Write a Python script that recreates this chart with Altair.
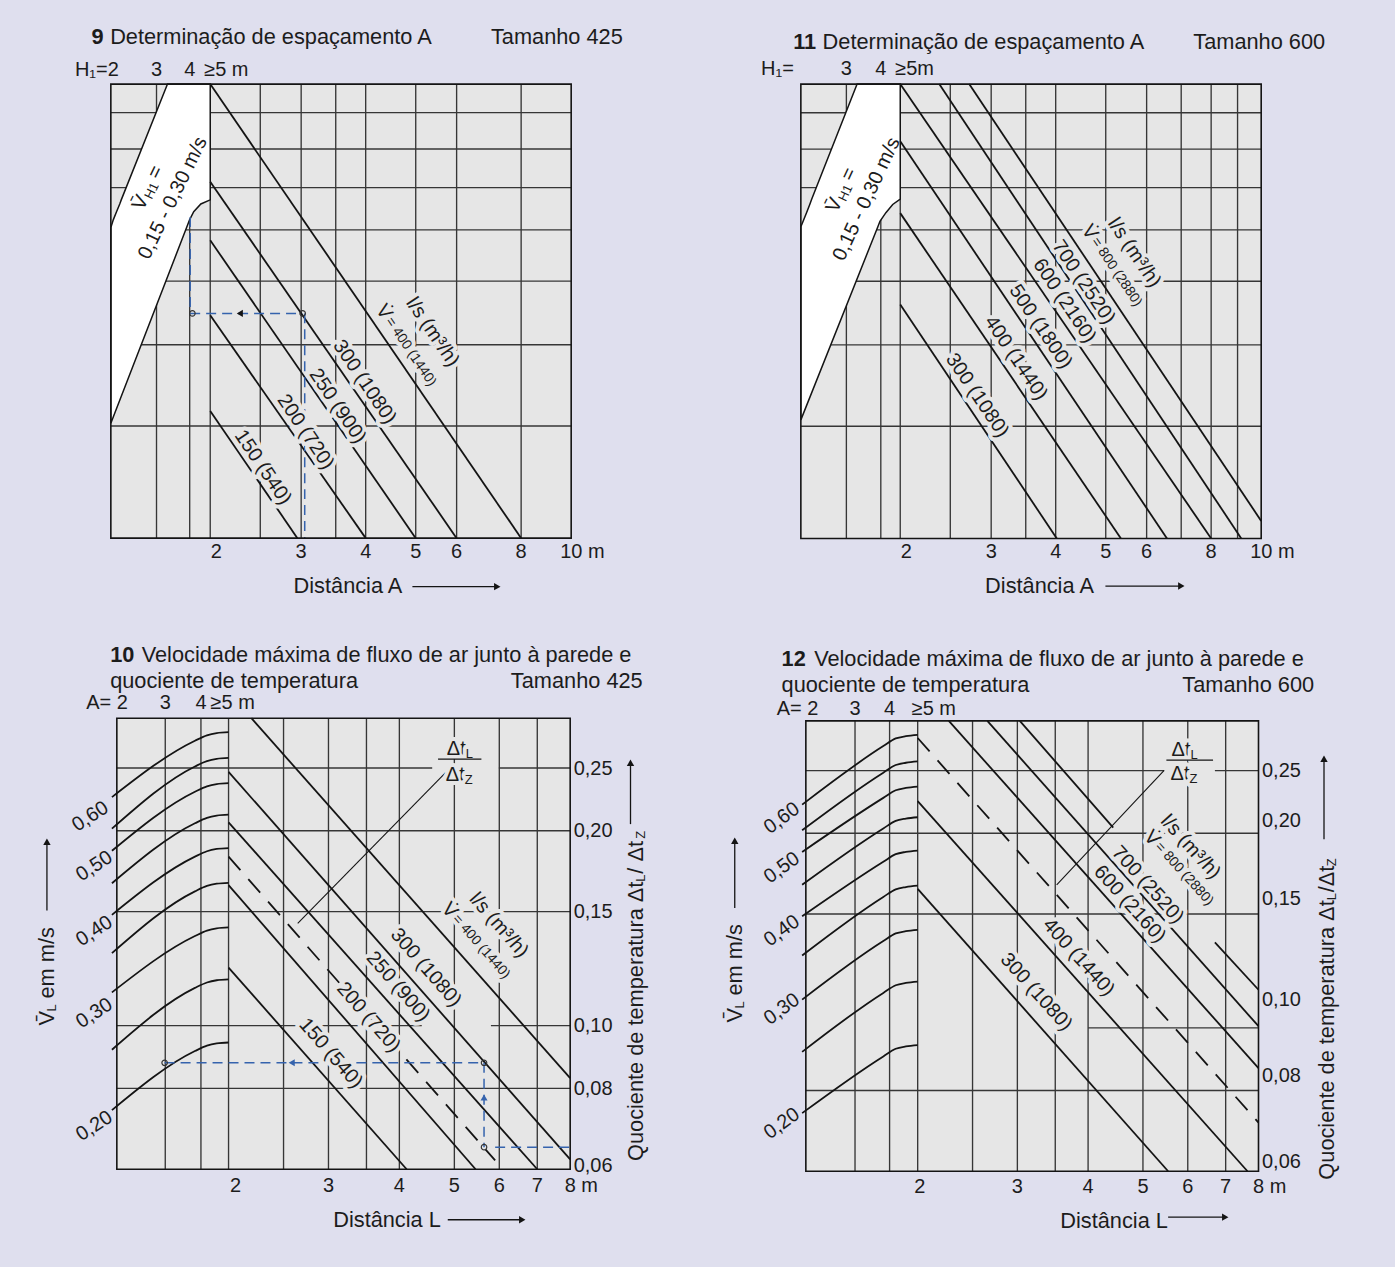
import math
import altair as alt
import pandas as pd

FONT = "Liberation Sans"
BG = "#dfdfee"
PLOT = "#e6e6e6"
TXT = "#1c1c1c"
INK = "#141414"
GRID = "#363636"
BLUE = "#3563ad"
FS = 20
FT = 21.8
FSM = 14
FSUB = 13
NB = "\u00a0"

# ======================= DATA =======================
# ---- Fig. 9  (Tamanho 425) distance A ----
f9_ticks = [2, 3, 4, 5, 6, 8, 10]
f9_grid_x = [1.574, 1.825, 2.0, 2.5, 3.0, 3.5, 4.0, 5.0, 6.0, 8.0]
f9_grid_y = [24.7, 42.6, 56.6, 67.9, 77.2, 85.7, 93.7]
f9_h1_pos = [1.284, 1.574, 1.825, 2.0]
f9_h1_txt = ["H₁=2", "3", "4", "≥5 m"]
f9_flow = ["400", "300", "250", "200", "150"]
f9_x_start = [2.0, 2.0, 2.0, 2.0, 2.0]
f9_y_start = [100.0, 78.5, 65.6, 49.1, 28.0]
f9_x_end = [8.0, 6.0, 5.0, 4.0, 2.95]
f9_y_end = [0.0, 0.0, 0.0, 0.0, 0.0]
f9_lab_txt = ["300 (1080)", "250 (900)", "200 (720)", "150 (540)"]
f9_lab_x = [3.98, 3.53, 3.06, 2.53]
f9_lab_y = [34.4, 29.1, 23.4, 15.6]
f9_top_txt = "= 400 (1440)"
f9_top_xy = [4.82, 42.1]
f9_unit_xy = [5.39, 45.4]
f9_band_y = [25.3, 68.4, 70.1, 71.9, 73.6, 74.5, 100.0]
f9_band_xl = [1.284, 1.284, 1.298, 1.317, 1.336, 1.345, 1.653]
f9_band_xr = [1.284, 1.800, 1.824, 1.858, 1.918, 2.0, 2.0]
f9_vh1_xy = [1.516, 77.3]
f9_range_xy = [1.692, 74.9]
f9_ex_hx0, f9_ex_hx1, f9_ex_hy = [1.829], [3.014], [49.5]
f9_ex_vx, f9_ex_vy0, f9_ex_vy1 = [1.829, 3.048], [70.7, 49.5], [49.5, 0.0]
f9_ex_cx, f9_ex_cy = [1.847, 3.02], [49.5, 49.5]
f9_ex_ax, f9_ex_ay = [2.282], [49.5]

# ---- Fig. 11 (Tamanho 600) distance A ----
f11_ticks = [2, 3, 4, 5, 6, 8, 10]
f11_grid_x = [1.573, 1.834, 2.0, 2.5, 3.0, 3.5, 4.0, 5.0, 6.0, 7.0, 8.0, 9.0]
f11_grid_y = [24.7, 42.6, 56.6, 67.9, 77.2, 85.7, 93.7]
f11_h1_pos = [1.284, 1.573, 1.834, 2.0]
f11_h1_txt = ["H₁=", "3", "4", "≥5m"]
f11_flow = ["800", "700", "600", "500", "400", "300"]
f11_x_start = [2.72, 2.38, 2.0, 2.0, 2.0, 2.0]
f11_y_start = [100.0, 100.0, 100.0, 87.4, 71.6, 51.5]
f11_x_end = [10.0, 9.15, 8.0, 6.57, 5.35, 4.02]
f11_y_end = [3.85, 0.0, 0.0, 0.0, 0.0, 0.0]
f11_lab_txt = ["300 (1080)", "400 (1440)", "500 (1800)", "600 (2160)", "700 (2520)"]
f11_lab_x = [2.82, 3.35, 3.74, 4.16, 4.53]
f11_lab_y = [31.5, 39.7, 46.6, 52.3, 56.4]
f11_top_txt = "= 800 (2880)"
f11_top_xy = [5.17, 59.7]
f11_unit_xy = [5.68, 62.9]
f11_band_y = [26.1, 68.6, 69.8, 71.7, 73.5, 74.7, 100.0]
f11_band_xl = [1.284, 1.284, 1.297, 1.317, 1.336, 1.348, 1.650]
f11_band_xr = [1.284, 1.810, 1.827, 1.876, 1.934, 2.0, 2.0]
f11_vh1_xy = [1.541, 76.8]
f11_range_xy = [1.721, 74.7]

# ---- Fig. 10 (Tamanho 425) distance L ----
f10_ticks = [2, 3, 4, 5, 6, 7, 8]
f10_grid_x = [1.547, 1.788, 2.0, 2.5, 3.0, 3.5, 4.0, 5.0, 6.0, 7.0]
f10_q_grid = [0.08, 0.10, 0.10, 0.15, 0.20, 0.25, 0.25]
f10_q_from = [1.271, 1.271, 5.80, 1.271, 1.271, 1.271, 5.99]
f10_q_to = [8.0, 4.38, 8.0, 8.0, 8.0, 4.57, 8.0]
f10_q_ticks = [0.06, 0.08, 0.10, 0.15, 0.20, 0.25]
f10_q_label_shift = [-4.0, 0.0, 0.0, 0.0, 0.0, 0.0]
f10_a_pos = [1.271, 1.547, 1.788, 2.0]
f10_a_txt = ["A= 2", "3", "4", "≥5 m"]
f10_flow = ["400", "300", "250", "200", "150"]
f10_x_start = [2.194, 2.0, 2.0, 2.0, 2.0]
f10_y_start = [100.0, 88.1, 76.9, 63.0, 44.7]
f10_x_end = [8.0, 8.0, 7.0, 5.45, 4.12]
f10_y_end = [20.2, 2.2, 0.0, 0.0, 0.0]
f10_dash = [2.0, 69.3, 5.90, 1.95]
f10_lab_txt = ["300 (1080)", "250 (900)", "200 (720)", "150 (540)"]
f10_lab_x = [4.457, 3.98, 3.53, 3.03]
f10_lab_y = [44.7, 40.5, 33.7, 25.7]
f10_top_txt = "= 400 (1440)"
f10_top_xy = [5.49, 50.3]
f10_unit_xy = [5.99, 54.1]
f10_vel = ["0,60", "0,55", "0,50", "0,45", "0,40", "0,35", "0,30", "0,25", "0,20"]
f10_curve_x = [1.246, 1.745, 1.832, 1.906, 2.0]
f10_curve_y = [
    [82.5, 95.0, 96.2, 96.7, 96.9],
    [75.5, 89.3, 90.5, 91.0, 91.2],
    [70.6, 83.7, 84.9, 85.4, 85.6],
    [63.4, 76.7, 77.9, 78.4, 78.6],
    [56.4, 69.3, 70.5, 71.0, 71.2],
    [47.9, 61.6, 62.8, 63.3, 63.5],
    [39.2, 51.7, 52.9, 53.4, 53.6],
    [26.5, 40.2, 41.4, 41.9, 42.1],
    [13.1, 26.2, 27.4, 27.9, 28.1],
]
f10_vlab_txt = ["0,60", "0,50", "0,40", "0,30", "0,20"]
f10_vlab_x = [1.141, 1.160, 1.160, 1.160, 1.160]
f10_vlab_y = [78.2, 67.2, 52.8, 34.6, 9.6]
f10_frac = [5.11, 93.2, 90.9, 87.5, 4.68, 5.58]
f10_leader = [4.83, 88.0, 2.648, 54.5]
f10_ex_hx0, f10_ex_hx1, f10_ex_hy = [1.543, 5.90], [5.64, 8.0], [23.6, 4.9]
f10_ex_vx, f10_ex_vy0, f10_ex_vy1 = [5.64], [23.6], [4.9]
f10_ex_cx, f10_ex_cy = [1.543, 5.64, 5.64], [23.6, 23.6, 4.9]
f10_ex_lx, f10_ex_ly = [2.584], [23.6]
f10_ex_ux, f10_ex_uy = [5.64], [15.9]

# ---- Fig. 12 (Tamanho 600) distance L ----
f12_ticks = [2, 3, 4, 5, 6, 7, 8]
f12_grid_x = [1.55, 1.784, 2.0, 2.5, 3.0, 3.5, 4.0, 5.0, 6.0, 7.0]
f12_q_grid = [0.08, 0.10, 0.15, 0.20, 0.25, 0.25]
f12_q_from = [1.269, 4.0, 1.269, 1.269, 1.269, 6.70]
f12_q_to = [8.0, 8.0, 8.0, 8.0, 5.45, 8.0]
f12_q_ticks = [0.06, 0.08, 0.10, 0.15, 0.20, 0.25]
f12_q_label_shift = [-9.6, -14.5, -28.7, -16.0, -12.6, 0.0]
f12_a_pos = [1.269, 1.55, 1.784, 2.0]
f12_a_txt = ["A= 2", "3", "4", "≥5 m"]
f12_flow = ["800", "800", "700", "600", "400", "300"]
f12_x_start = [3.03, 6.70, 2.655, 2.27, 2.0, 2.0]
f12_y_start = [100.0, 50.8, 100.0, 100.0, 82.2, 62.7]
f12_x_end = [4.43, 8.0, 8.0, 8.0, 7.65, 5.54]
f12_y_end = [76.3, 40.3, 32.2, 22.9, 0.0, 0.0]
f12_dash = [2.0, 96.2, 8.0, 10.8]
f12_lab_txt = ["300 (1080)", "400 (1440)", "600 (2160)", "700 (2520)"]
f12_lab_x = [3.24, 3.85, 4.74, 5.10]
f12_lab_y = [39.8, 47.5, 59.3, 63.6]
f12_top_txt = "= 800 (2880)"
f12_top_xy = [5.82, 67.0]
f12_unit_xy = [6.07, 72.0]
f12_curve_x = [1.25, 1.739, 1.829, 1.906, 2.0]
f12_curve_y = [
    [81.4, 94.4, 96.1, 96.6, 96.9],
    [75.7, 88.5, 90.2, 90.7, 91.0],
    [70.9, 82.9, 84.6, 85.1, 85.4],
    [63.6, 76.1, 77.8, 78.3, 78.6],
    [56.6, 68.7, 70.4, 70.9, 71.2],
    [47.9, 60.9, 62.6, 63.1, 63.4],
    [38.1, 51.1, 52.8, 53.3, 53.6],
    [26.5, 39.6, 41.3, 41.8, 42.1],
    [12.9, 25.5, 27.2, 27.7, 28.0],
]
f12_vlab_txt = ["0,60", "0,50", "0,40", "0,30", "0,20"]
f12_vlab_x = [1.151, 1.151, 1.151, 1.151, 1.151]
f12_vlab_y = [78.4, 67.4, 53.4, 36.0, 10.6]
f12_frac = [5.92, 93.6, 91.3, 88.1, 5.50, 6.65]
f12_leader = [5.45, 89.0, 3.52, 63.6]


# ======================= HELPERS =======================
def one():
    return pd.DataFrame({"a": [0]})


def ptext(text, x, y, size=FS, weight="normal", align="left", angle=0, dx=0, dy=0):
    return alt.Chart(pd.DataFrame({"t": [text]})).mark_text(
        font=FONT, fontSize=size, fontWeight=weight, align=align, baseline="middle",
        angle=angle, dx=dx, dy=dy, color=TXT,
    ).encode(text="t:N", x=alt.value(x), y=alt.value(y))


def parrow(x1, y1, x2, y2, shape):
    line = alt.Chart(one()).mark_rule(color=INK, strokeWidth=1.3).encode(
        x=alt.value(x1), x2=alt.value(x2), y=alt.value(y1), y2=alt.value(y2))
    head = alt.Chart(one()).mark_point(shape=shape, filled=True, size=55, color=INK, opacity=1).encode(
        x=alt.value(x2), y=alt.value(y2))
    return [line, head]


def build(P):
    W, H = P["W"], P["H"]
    bl, br, bt, bb = P["box"]
    xmin, xmax = P["xdom"]
    lx0, lx1 = math.log10(xmin), math.log10(xmax)
    d = (lx1 - lx0) / (br - bl)
    xs = alt.Scale(type="log", domain=[10 ** (lx0 - bl * d), 10 ** (lx1 + (W - br) * d)], nice=False)
    k = 100.0 / (bb - bt)
    ys = alt.Scale(type="linear", domain=[-(H - bb) * k, 100.0 + bt * k], nice=False, zero=False)

    def X(f):
        return alt.X(f, type="quantitative", scale=xs, axis=None)

    def Y(f):
        return alt.Y(f, type="quantitative", scale=ys, axis=None)

    L = []
    box = pd.DataFrame({"x0": [xmin], "x1": [xmax], "y0": [0.0], "y1": [100.0]})
    L.append(alt.Chart(box).mark_rect(color=PLOT).encode(x=X("x0:Q"), x2="x1:Q", y=Y("y0:Q"), y2="y1:Q"))

    # vertical grid
    gv = pd.DataFrame({"x": P["grid_x"], "y0": 0.0, "y1": 100.0})
    L.append(alt.Chart(gv).mark_rule(color=GRID, strokeWidth=1.35).encode(x=X("x:Q"), y=Y("y0:Q"), y2="y1:Q"))

    # horizontal grid
    if "grid_y" in P:
        gh = pd.DataFrame({"y": P["grid_y"], "x0": xmin, "x1": xmax})
        L.append(alt.Chart(gh).mark_rule(color=GRID, strokeWidth=1.35).encode(y=Y("y:Q"), x=X("x0:Q"), x2="x1:Q"))
    if "q_grid" in P:
        lq0, lq1 = math.log10(P["qdom"][0]), math.log10(P["qdom"][1])
        dq = (lq1 - lq0) / (bb - bt)
        qs = alt.Scale(type="log", domain=[10 ** (lq0 - (H - bb) * dq), 10 ** (lq1 + bt * dq)], nice=False)
        lab_off = {"condition": [{"test": "abs(datum.value - %s) < 0.001" % v, "value": s}
                                 for v, s in zip(P["q_ticks"], P["q_shift"])], "value": 0}
        qaxis = alt.Axis(
            orient="right", values=P["q_ticks"], offset=-(W - br), domain=False, ticks=False, grid=False,
            title=None, labelFont=FONT, labelFontSize=FS, labelColor=TXT, labelPadding=3,
            labelFlush=False, labelOverlap=False, labelAlign="left", labelBaseline="middle",
            labelExpr="replace(format(datum.value, '.2f'), '.', ',')", labelOffset=lab_off,
        )
        gq = pd.DataFrame({"q": P["q_grid"], "x0": P["q_from"], "x1": P["q_to"]})
        L.append(alt.Chart(gq).mark_rule(color=GRID, strokeWidth=1.35).encode(
            y=alt.Y("q:Q", scale=qs, axis=qaxis), x=X("x0:Q"), x2="x1:Q"))

    # white band (H1 region)
    if "band_y" in P:
        band = pd.DataFrame({"y": P["band_y"], "xl": P["band_xl"], "xr": P["band_xr"]})
        L.append(alt.Chart(band).mark_area(orient="horizontal", color="white", stroke=INK, strokeWidth=1.5,
                                           opacity=1).encode(y=Y("y:Q"), x=X("xl:Q"), x2="xr:Q"))

    # velocity curves
    if "curve_y" in P:
        rows = []
        for name, ys_ in zip(P["curve_names"], P["curve_y"]):
            for xv, yv in zip(P["curve_x"], ys_):
                rows.append({"v": name, "x": xv, "y": yv})
        L.append(alt.Chart(pd.DataFrame(rows)).mark_line(color=INK, strokeWidth=1.8, interpolate="monotone").encode(
            x=X("x:Q"), y=Y("y:Q"), detail="v:N"))

    # flow-rate lines
    fl = pd.DataFrame({"f": P["flow"], "x0": P["x_start"], "y0": P["y_start"], "x1": P["x_end"], "y1": P["y_end"]})
    L.append(alt.Chart(fl).mark_rule(color=INK, strokeWidth=1.8).encode(
        x=X("x0:Q"), y=Y("y0:Q"), x2="x1:Q", y2="y1:Q", detail="f:N"))
    if "dash" in P:
        a, b, c, e = P["dash"]
        dl = pd.DataFrame({"x0": [a], "y0": [b], "x1": [c], "y1": [e]})
        L.append(alt.Chart(dl).mark_rule(color=INK, strokeWidth=1.8, strokeDash=[18, 12]).encode(
            x=X("x0:Q"), y=Y("y0:Q"), x2="x1:Q", y2="y1:Q"))

    # fraction leader
    if "leader" in P:
        a, b, c, e = P["leader"]
        ld = pd.DataFrame({"x0": [a], "y0": [b], "x1": [c], "y1": [e]})
        L.append(alt.Chart(ld).mark_rule(color=INK, strokeWidth=1.1).encode(
            x=X("x0:Q"), y=Y("y0:Q"), x2="x1:Q", y2="y1:Q"))

    # example (blue dashed) reading path
    if "ex_h" in P:
        hx0, hx1, hy = P["ex_h"]
        L.append(alt.Chart(pd.DataFrame({"x0": hx0, "x1": hx1, "y": hy})).mark_rule(
            color=BLUE, strokeWidth=1.5, strokeDash=[10, 6]).encode(x=X("x0:Q"), x2="x1:Q", y=Y("y:Q")))
        vx, vy0, vy1 = P["ex_v"]
        L.append(alt.Chart(pd.DataFrame({"x": vx, "y0": vy0, "y1": vy1})).mark_rule(
            color=BLUE, strokeWidth=1.5, strokeDash=[10, 6]).encode(x=X("x:Q"), y=Y("y0:Q"), y2="y1:Q"))
        cx, cy = P["ex_c"]
        L.append(alt.Chart(pd.DataFrame({"x": cx, "y": cy})).mark_point(
            shape="circle", filled=False, size=30, color="#333333", strokeWidth=1.2, opacity=1).encode(
            x=X("x:Q"), y=Y("y:Q")))
        for (ax_, ay_), shape, col in P["ex_arrows"]:
            L.append(alt.Chart(pd.DataFrame({"x": ax_, "y": ay_})).mark_point(
                shape=shape, filled=True, size=50, color=col, opacity=1).encode(x=X("x:Q"), y=Y("y:Q")))

    # plot frame
    L.append(alt.Chart(box).mark_rect(filled=False, color=INK, strokeWidth=1.6).encode(
        x=X("x0:Q"), x2="x1:Q", y=Y("y0:Q"), y2="y1:Q"))

    # ---- texts placed in data space ----
    def dtext(df, angle, size, align="center", dx=0, dy=0, halo=True, weight="normal"):
        base = alt.Chart(df).encode(x=X("x:Q"), y=Y("y:Q"), text="t:N")
        kw = dict(font=FONT, fontSize=size, angle=angle, align=align, baseline="middle", dx=dx, dy=dy,
                  fontWeight=weight)
        out = []
        if halo:
            out.append(base.mark_text(color=PLOT, stroke=PLOT, strokeWidth=8, strokeJoin="round", **kw))
        out.append(base.mark_text(color=TXT, **kw))
        return out

    ang = P["angle"]
    L += dtext(pd.DataFrame({"t": P["lab_txt"], "x": P["lab_x"], "y": P["lab_y"]}), ang, FS)
    tx, ty = P["top_xy"]
    L += dtext(pd.DataFrame({"t": ["V̇"], "x": [tx], "y": [ty]}), ang, FS, align="left", dx=-49)
    L += dtext(pd.DataFrame({"t": [P["top_txt"]], "x": [tx], "y": [ty]}), ang, FSM, align="left", dx=-34)
    ux, uy = P["unit_xy"]
    L += dtext(pd.DataFrame({"t": ["l/s (m³/h)"], "x": [ux], "y": [uy]}), ang, FS)

    if "vh1_xy" in P:
        vx_, vy_ = P["vh1_xy"]
        vdf = pd.DataFrame({"x": [vx_], "y": [vy_]})
        L += dtext(vdf.assign(t="V̄"), P["band_angle"], FS, align="left", dx=-24, halo=False)
        L += dtext(vdf.assign(t="H1"), P["band_angle"], FSUB, align="left", dx=-10, dy=5, halo=False)
        L += dtext(vdf.assign(t="="), P["band_angle"], FS, align="left", dx=11, halo=False)
        rx_, ry_ = P["range_xy"]
        L += dtext(pd.DataFrame({"t": ["0,15 - 0,30 m/s"], "x": [rx_], "y": [ry_]}), P["band_angle"], FS,
                   halo=False)

    if "vlab_txt" in P:
        L += dtext(pd.DataFrame({"t": P["vlab_txt"], "x": P["vlab_x"], "y": P["vlab_y"]}), P["vlab_angle"], FS,
                   halo=False)

    if "frac" in P:
        fx, fn, fb, fd, b0, b1 = P["frac"]
        L += dtext(pd.DataFrame({"t": ["Δt"], "x": [fx], "y": [fn]}), 0, FS, align="right", dx=6)
        L += dtext(pd.DataFrame({"t": ["L"], "x": [fx], "y": [fn]}), 0, FSUB, align="left", dx=6, dy=5)
        L += dtext(pd.DataFrame({"t": ["Δt"], "x": [fx], "y": [fd]}), 0, FS, align="right", dx=5)
        L += dtext(pd.DataFrame({"t": ["Z"], "x": [fx], "y": [fd]}), 0, FSUB, align="left", dx=5, dy=5)
        L.append(alt.Chart(pd.DataFrame({"x0": [b0], "x1": [b1], "y": [fb]})).mark_rule(
            color=INK, strokeWidth=1.3).encode(x=X("x0:Q"), x2="x1:Q", y=Y("y:Q")))

    # bottom distance scale (tick labels)
    ticks = P["ticks"]
    trow = P["tick_row"]
    first_dx, last_dx = P["tick_dx"]
    L.append(alt.Chart(pd.DataFrame({"t": [str(ticks[0])], "x": [ticks[0]]})).mark_text(
        font=FONT, fontSize=FS, align="center", baseline="middle", dx=first_dx, color=TXT).encode(
        x=X("x:Q"), y=alt.value(trow), text="t:N"))
    L.append(alt.Chart(pd.DataFrame({"t": [str(v) for v in ticks[1:-1]], "x": ticks[1:-1]})).mark_text(
        font=FONT, fontSize=FS, align="center", baseline="middle", color=TXT).encode(
        x=X("x:Q"), y=alt.value(trow), text="t:N"))
    L.append(alt.Chart(pd.DataFrame({"t": ["%d m" % ticks[-1]], "x": [ticks[-1]]})).mark_text(
        font=FONT, fontSize=FS, align="left", baseline="middle", dx=last_dx, color=TXT).encode(
        x=X("x:Q"), y=alt.value(trow), text="t:N"))

    # top scale row (H1 / A)
    tpos, ttxt, trow2, tdx0, tdx3 = P["top_row"]
    L.append(alt.Chart(pd.DataFrame({"t": [ttxt[0]], "x": [tpos[0]]})).mark_text(
        font=FONT, fontSize=FS, align="right", baseline="middle", dx=tdx0, color=TXT).encode(
        x=X("x:Q"), y=alt.value(trow2), text="t:N"))
    L.append(alt.Chart(pd.DataFrame({"t": ttxt[1:3], "x": tpos[1:3]})).mark_text(
        font=FONT, fontSize=FS, align="center", baseline="middle", color=TXT).encode(
        x=X("x:Q"), y=alt.value(trow2), text="t:N"))
    L.append(alt.Chart(pd.DataFrame({"t": [ttxt[3]], "x": [tpos[3]]})).mark_text(
        font=FONT, fontSize=FS, align="left", baseline="middle", dx=tdx3, color=TXT).encode(
        x=X("x:Q"), y=alt.value(trow2), text="t:N"))

    # titles and other page texts
    L += P["extra"]
    return alt.layer(*L).resolve_scale(y="independent").properties(width=W, height=H)


def quot_title(xc, j1, compact):
    out = [ptext("Quociente de temperatura Δt", xc, j1, size=FT, align="right", angle=270),
           ptext("L", xc, j1, size=FSUB, align="left", angle=270, dy=5)]
    mid = "/Δt" if compact else NB + "/" + NB + "Δt"
    out.append(ptext(mid, xc, j1, size=FT, align="left", angle=270, dx=8))
    out.append(ptext("Z", xc, j1, size=FSUB, align="left", angle=270, dx=8 + (26 if compact else 35), dy=5))
    return out


def vl_title(xc, y0):
    return [ptext("V̄", xc, y0, size=FT, align="left", angle=270),
            ptext("L", xc, y0, size=FSUB, align="left", angle=270, dx=14, dy=5),
            ptext("em m/s", xc, y0, size=FT, align="left", angle=270, dx=27)]


# ======================= PANELS =======================
P9 = dict(
    W=690, H=622, box=(110, 571, 82.3, 537), xdom=(1.284, 10.0), ticks=f9_ticks, tick_row=550.5,
    tick_dx=(6, -11), grid_x=f9_grid_x, grid_y=f9_grid_y,
    band_y=f9_band_y, band_xl=f9_band_xl, band_xr=f9_band_xr,
    flow=f9_flow, x_start=f9_x_start, y_start=f9_y_start, x_end=f9_x_end, y_end=f9_y_end,
    ex_h=(f9_ex_hx0, f9_ex_hx1, f9_ex_hy), ex_v=(f9_ex_vx, f9_ex_vy0, f9_ex_vy1), ex_c=(f9_ex_cx, f9_ex_cy),
    ex_arrows=[((f9_ex_ax, f9_ex_ay), "triangle-left", INK)],
    angle=56, lab_txt=f9_lab_txt, lab_x=f9_lab_x, lab_y=f9_lab_y,
    top_txt=f9_top_txt, top_xy=f9_top_xy, unit_xy=f9_unit_xy,
    vh1_xy=f9_vh1_xy, range_xy=f9_range_xy, band_angle=296,
    top_row=(f9_h1_pos, f9_h1_txt, 68.1, 8, -6),
    extra=[ptext("9", 90.7, 35.6, size=FT, weight="bold"),
           ptext("Determinação de espaçamento A", 109.3, 35.6, size=FT),
           ptext("Tamanho 425", 490.7, 35.6, size=FT),
           ptext("Distância A", 293, 585, size=FT)] + parrow(412, 585.6, 497, 585.6, "triangle-right"),
)

P11 = dict(
    W=705, H=622, box=(111, 572, 82.3, 537.3), xdom=(1.284, 10.0), ticks=f11_ticks, tick_row=551,
    tick_dx=(6, -11), grid_x=f11_grid_x, grid_y=f11_grid_y,
    band_y=f11_band_y, band_xl=f11_band_xl, band_xr=f11_band_xr,
    flow=f11_flow, x_start=f11_x_start, y_start=f11_y_start, x_end=f11_x_end, y_end=f11_y_end,
    angle=56, lab_txt=f11_lab_txt, lab_x=f11_lab_x, lab_y=f11_lab_y,
    top_txt=f11_top_txt, top_xy=f11_top_xy, unit_xy=f11_unit_xy,
    vh1_xy=f11_vh1_xy, range_xy=f11_range_xy, band_angle=295,
    top_row=(f11_h1_pos, f11_h1_txt, 67.5, -7, -5),
    extra=[ptext("11", 103.3, 39.7, size=FT, weight="bold"),
           ptext("Determinação de espaçamento A", 132.8, 39.7, size=FT),
           ptext("Tamanho 600", 504, 39.7, size=FT),
           ptext("Distância A", 295.5, 584.7, size=FT)] + parrow(416, 585, 492, 585, "triangle-right"),
)

P10 = dict(
    W=690, H=645, box=(116, 570, 95.3, 547), xdom=(1.271, 8.0), qdom=(0.06, 0.2985),
    ticks=f10_ticks, tick_row=564, tick_dx=(7, -5.5), grid_x=f10_grid_x,
    q_grid=f10_q_grid, q_from=f10_q_from, q_to=f10_q_to, q_ticks=f10_q_ticks, q_shift=f10_q_label_shift,
    curve_names=f10_vel, curve_x=f10_curve_x, curve_y=f10_curve_y,
    flow=f10_flow, x_start=f10_x_start, y_start=f10_y_start, x_end=f10_x_end, y_end=f10_y_end, dash=f10_dash,
    leader=f10_leader, frac=f10_frac,
    ex_h=(f10_ex_hx0, f10_ex_hx1, f10_ex_hy), ex_v=(f10_ex_vx, f10_ex_vy0, f10_ex_vy1),
    ex_c=(f10_ex_cx, f10_ex_cy),
    ex_arrows=[((f10_ex_lx, f10_ex_ly), "triangle-left", BLUE), ((f10_ex_ux, f10_ex_uy), "triangle-up", BLUE)],
    angle=49, lab_txt=f10_lab_txt, lab_x=f10_lab_x, lab_y=f10_lab_y,
    top_txt=f10_top_txt, top_xy=f10_top_xy, unit_xy=f10_unit_xy,
    vlab_txt=f10_vlab_txt, vlab_x=f10_vlab_x, vlab_y=f10_vlab_y, vlab_angle=327,
    top_row=(f10_a_pos, f10_a_txt, 80, 11, -18),
    extra=[ptext("10", 109.3, 32.1, size=FT, weight="bold"),
           ptext("Velocidade máxima de fluxo de ar junto à parede e", 140.9, 32.1, size=FT),
           ptext("quociente de temperatura", 109.3, 57.8, size=FT),
           ptext("Tamanho 425", 510.6, 57.8, size=FT),
           ptext("Distância L", 332.7, 597.6, size=FT)]
          + parrow(447.4, 597.6, 522, 597.6, "triangle-right")
          + quot_title(636, 259, False) + parrow(630.4, 201.4, 630.4, 140, "triangle-up")
          + vl_title(46, 403) + parrow(46, 288, 46, 219, "triangle-up"),
)

P12 = dict(
    W=705, H=645, box=(116, 569.3, 98, 549), xdom=(1.269, 8.0), qdom=(0.06, 0.2985),
    ticks=f12_ticks, tick_row=565, tick_dx=(2, -5.5), grid_x=f12_grid_x,
    q_grid=f12_q_grid, q_from=f12_q_from, q_to=f12_q_to, q_ticks=f12_q_ticks, q_shift=f12_q_label_shift,
    curve_names=f10_vel, curve_x=f12_curve_x, curve_y=f12_curve_y,
    flow=f12_flow, x_start=f12_x_start, y_start=f12_y_start, x_end=f12_x_end, y_end=f12_y_end, dash=f12_dash,
    leader=f12_leader, frac=f12_frac,
    angle=48, lab_txt=f12_lab_txt, lab_x=f12_lab_x, lab_y=f12_lab_y,
    top_txt=f12_top_txt, top_xy=f12_top_xy, unit_xy=f12_unit_xy,
    vlab_txt=f12_vlab_txt, vlab_x=f12_vlab_x, vlab_y=f12_vlab_y, vlab_angle=324,
    top_row=(f12_a_pos, f12_a_txt, 86.5, 12.6, -6),
    extra=[ptext("12", 91.7, 36.1, size=FT, weight="bold"),
           ptext("Velocidade máxima de fluxo de ar junto à parede e", 124.3, 36.1, size=FT),
           ptext("quociente de temperatura", 91.7, 61.7, size=FT),
           ptext("Tamanho 600", 493, 61.7, size=FT),
           ptext("Distância L", 370.8, 598.8, size=FT)]
          + parrow(478.8, 595, 536, 595, "triangle-right")
          + quot_title(638, 277.7, True) + parrow(634.9, 216.5, 634.9, 136, "triangle-up")
          + vl_title(44.8, 400) + parrow(44.8, 285.3, 44.8, 218, "triangle-up"),
)

chart = alt.concat(build(P9), build(P11), build(P10), build(P12), columns=2, spacing=0).properties(
    padding=0, background=BG, bounds="flush", align="each"
).configure_view(stroke="transparent")

chart.save("out.html", embed_options={"renderer": "svg", "actions": False})
